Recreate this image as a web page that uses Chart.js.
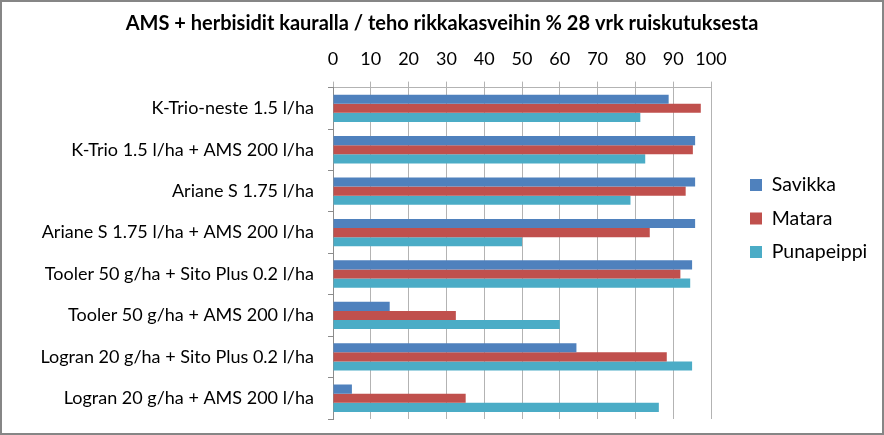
<!DOCTYPE html>
<html>
<head>
<meta charset="utf-8">
<script src="https://cdn.jsdelivr.net/npm/chart.js@4.4.0/dist/chart.umd.min.js"></script>
<style>
  html, body { margin: 0; padding: 0; background: #fff; }
  #wrap { width: 884px; height: 435px; box-sizing: border-box; border: 2px solid #868686; }
  canvas { display: block; }
</style>
</head>
<body>
<div id="wrap"><canvas id="chart" width="880" height="431"></canvas></div>
<script>
const categories = [
  "K-Trio-neste 1.5 l/ha",
  "K-Trio 1.5 l/ha + AMS 200 l/ha",
  "Ariane S 1.75 l/ha",
  "Ariane S 1.75 l/ha + AMS 200 l/ha",
  "Tooler 50 g/ha + Sito Plus 0.2 l/ha",
  "Tooler 50 g/ha + AMS 200 l/ha",
  "Logran 20 g/ha + Sito Plus 0.2 l/ha",
  "Logran 20 g/ha + AMS 200 l/ha"
];
const savikka = [88.8, 95.8, 95.8, 95.8, 95, 15, 64.4, 5];
const matara = [97.3, 95.2, 93.3, 83.8, 91.9, 32.5, 88.3, 35.1];
const punapeippi = [81.3, 82.6, 78.7, 50, 94.5, 60, 95, 86.2];

const font = "Lato, 'Open Sans', sans-serif";

// legend gets a fixed width so the plot stops at the same place as the original,
// and its items are nudged right / down
const legendWidth = {
  id: "legendWidth",
  beforeLayout(chart) {
    const lg = chart.legend;
    if (lg && !lg._patched) {
      const fit = lg.fit.bind(lg);
      lg.fit = function () { fit(); this.width = 171; };
      const draw = lg.draw.bind(lg);
      lg.draw = function () {
        const ctx = chart.ctx;
        ctx.save();
        ctx.translate(25, 5);
        draw();
        ctx.restore();
      };
      lg._patched = true;
    }
  }
};

new Chart(document.getElementById("chart"), {
  type: "bar",
  data: {
    labels: categories,
    datasets: [
      { label: "Savikka", data: savikka, backgroundColor: "#4F81BD" },
      { label: "Matara", data: matara, backgroundColor: "#C0504D" },
      { label: "Punapeippi", data: punapeippi, backgroundColor: "#4BACC6" }
    ]
  },
  plugins: [legendWidth],
  options: {
    indexAxis: "y",
    responsive: false,
    animation: false,
    datasets: { bar: { barPercentage: 1, categoryPercentage: 0.66 } },
    layout: { padding: { left: 0, right: 0, top: 6, bottom: 14 } },
    scales: {
      x: {
        position: "top",
        min: 0, max: 100,
        ticks: { stepSize: 10, color: "#000", font: { family: font, size: 18 }, padding: 12 },
        grid: { color: "#b3b3b3", tickLength: 6 },
        border: { color: "#b3b3b3" }
      },
      y: {
        afterFit: s => { s.width = 331; s.paddingTop = 0; s.paddingBottom = 0; },
        ticks: { color: "#000", font: { family: font, size: 18 }, padding: 14 },
        grid: { offset: true, drawOnChartArea: false, color: "#8c8c8c", tickLength: 5 },
        border: { color: "#8c8c8c" }
      }
    },
    plugins: {
      title: {
        display: true,
        text: "AMS + herbisidit kauralla / teho rikkakasveihin % 28 vrk ruiskutuksesta",
        color: "#000",
        font: { family: font, size: 20, weight: "bold" },
        padding: { top: 4, bottom: 0 }
      },
      legend: {
        position: "right",
        labels: {
          color: "#000",
          font: { family: font, size: 19.5 },
          boxWidth: 12, boxHeight: 12,
          padding: 14
        }
      },
      tooltip: { enabled: false }
    }
  }
});
</script>
</body>
</html>
